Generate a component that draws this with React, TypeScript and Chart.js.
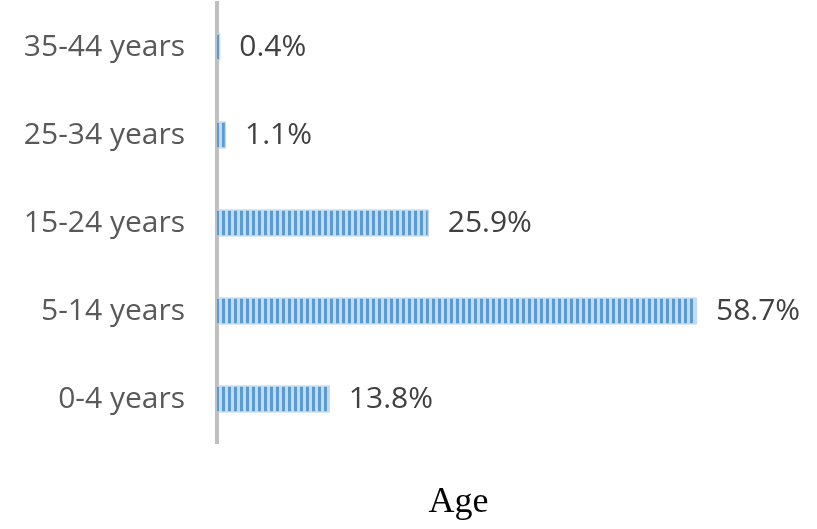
import React, { useEffect, useRef } from "react";
import { Chart, registerables } from "chart.js";

Chart.register(...registerables);

// Age groups, listed top to bottom
const ageGroups: string[] = ["35-44 years", "25-34 years", "15-24 years", "5-14 years", "0-4 years"];
// Share of cases per age group (%)
const shares: number[] = [0.4, 1.1, 25.9, 58.7, 13.8];
const axisTitle = "Age";

const WIDTH = 817;
const HEIGHT = 529;

function makeStripePattern(ctx: CanvasRenderingContext2D): CanvasPattern | string {
  const tile = document.createElement("canvas");
  tile.width = 6;
  tile.height = 6;
  const t = tile.getContext("2d");
  if (!t) return "#5b9bd5";
  t.fillStyle = "#c3dbf0";
  t.fillRect(0, 0, 6, 6);
  t.fillStyle = "#5b9bd5";
  t.fillRect(0, 0, 3, 6);
  return ctx.createPattern(tile, "repeat") || "#5b9bd5";
}

const valueLabels = {
  id: "valueLabels",
  afterDatasetsDraw(chart: Chart) {
    const { ctx } = chart;
    const meta = chart.getDatasetMeta(0);
    ctx.save();
    ctx.font = "30px 'Open Sans'";
    ctx.fillStyle = "#404040";
    ctx.textAlign = "left";
    ctx.textBaseline = "middle";
    meta.data.forEach((bar: any, i: number) => {
      const v = chart.data.datasets[0].data[i] as number;
      ctx.fillText(v.toFixed(1) + "%", bar.x + 19, bar.y);
    });
    ctx.restore();
  },
};

export default function App() {
  const ref = useRef<HTMLCanvasElement | null>(null);

  useEffect(() => {
    const canvas = ref.current;
    if (!canvas) return;
    const ctx = canvas.getContext("2d");
    if (!ctx) return;
    const pattern = makeStripePattern(ctx);

    const chart = new Chart(ctx, {
      type: "bar",
      data: {
        labels: ageGroups,
        datasets: [
          {
            data: shares,
            backgroundColor: pattern as any,
            borderColor: "rgba(189,215,238,0.9)",
            borderWidth: 1.5,
            barThickness: 27,
          },
        ],
      },
      options: {
        indexAxis: "y",
        animation: false,
        responsive: false,
        devicePixelRatio: 1,
        layout: { padding: { left: 0, right: 117, top: 3, bottom: 0 } },
        plugins: {
          legend: { display: false },
          tooltip: { enabled: false },
        },
        scales: {
          x: {
            min: 0,
            max: 59.07,
            grid: { display: false, drawTicks: false },
            border: { display: false },
            ticks: { display: false },
            title: {
              display: true,
              text: axisTitle,
              color: "#000000",
              font: { family: "'Liberation Serif'", size: 36 },
              padding: { top: 38, bottom: 4.8 },
            },
          },
          y: {
            grid: { display: false, drawTicks: false },
            border: { display: true, color: "#bfbfbf", width: 4 },
            ticks: {
              color: "#595959",
              padding: 32,
              font: { family: "'Open Sans'", size: 30 },
            },
            afterFit(scale: any) {
              scale.width = 217;
              scale.paddingTop = 0;
              scale.paddingBottom = 0;
            },
          },
        },
      },
      plugins: [valueLabels],
    });

    return () => chart.destroy();
  }, []);

  return (
    <div style={{ position: "absolute", left: 0, top: 0, width: WIDTH, height: HEIGHT, background: "#ffffff" }}>
      <canvas ref={ref} width={WIDTH} height={HEIGHT} style={{ display: "block" }} />
    </div>
  );
}
